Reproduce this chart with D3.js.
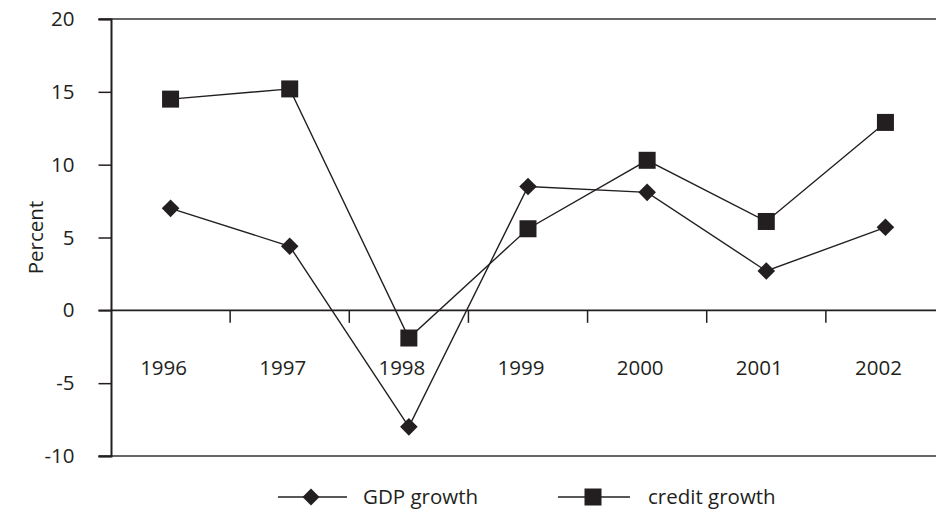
<!DOCTYPE html>
<html>
<head>
<meta charset="utf-8">
<script src="https://cdn.jsdelivr.net/npm/d3@7"></script>
<style>
  html, body { margin: 0; padding: 0; background: #fff; }
  svg { display: block; }
  text { font-family: "Open Sans", "Noto Sans", sans-serif; fill: #231f20; }
</style>
</head>
<body>
<svg id="chart" width="936" height="510"></svg>
<script>
// Annual growth rates, percent
const years = ["1996", "1997", "1998", "1999", "2000", "2001", "2002"];
const gdpGrowth = [7.0, 4.4, -8.0, 8.5, 8.1, 2.7, 5.7];
const creditGrowth = [14.5, 15.2, -1.9, 5.6, 10.3, 6.1, 12.9];
const yTicks = [-10, -5, 0, 5, 10, 15, 20];
const seriesNames = ["GDP growth", "credit growth"];

const ink = "#231f20";
const fontSize = 20.5;
const svg = d3.select("#chart");

const plotLeft = 111, plotRight = 945, plotTop = 19, plotBottom = 456;
const x = d3.scaleBand().domain(years).range([plotLeft, plotRight]).padding(0);
const y = d3.scaleLinear().domain([-10, 20]).range([plotBottom, plotTop]);
const cx = d => x(d) + x.bandwidth() / 2;

// Top and bottom frame lines at the axis extremes
[20, -10].forEach(v => {
  svg.append("line")
    .attr("x1", plotLeft - 12.5).attr("x2", 936)
    .attr("y1", y(v)).attr("y2", y(v))
    .attr("stroke", "#333").attr("stroke-width", 1.6);
});

// Y axis with outward ticks; plain hyphen for negatives
const yAxis = svg.append("g")
  .attr("transform", `translate(${plotLeft},0)`)
  .call(d3.axisLeft(y).tickValues(yTicks).tickSize(12.5).tickPadding(24).tickFormat(d => String(d)));
yAxis.select(".domain").attr("stroke", ink).attr("stroke-width", 2);
yAxis.selectAll(".tick line").attr("stroke", ink).attr("stroke-width", 1.5);
yAxis.selectAll(".tick text").attr("font-size", fontSize).attr("fill", ink)
  .style("font-family", '"Open Sans", sans-serif');

// Zero line with category separators hanging below
svg.append("line")
  .attr("x1", plotLeft - 12.5).attr("x2", 936)
  .attr("y1", y(0)).attr("y2", y(0))
  .attr("stroke", ink).attr("stroke-width", 1.6);

svg.append("g").selectAll("line")
  .data(years.slice(1))
  .join("line")
  .attr("x1", d => x(d)).attr("x2", d => x(d))
  .attr("y1", y(0)).attr("y2", y(0) + 12.5)
  .attr("stroke", ink).attr("stroke-width", 1.5);

// Category labels below the zero line
svg.append("g").selectAll("text")
  .data(years)
  .join("text")
  .attr("x", d => cx(d) - 7)
  .attr("y", y(0) + 65)
  .attr("text-anchor", "middle")
  .attr("font-size", fontSize)
  .text(d => d);

// Axis title
svg.append("text")
  .attr("transform", `translate(43,${(plotTop + plotBottom) / 2}) rotate(-90)`)
  .attr("text-anchor", "middle")
  .attr("font-size", fontSize)
  .text("Percent");

const line = d3.line().x(d => cx(d.year)).y(d => y(d.value));
const gdpPts = years.map((yr, i) => ({ year: yr, value: gdpGrowth[i] }));
const creditPts = years.map((yr, i) => ({ year: yr, value: creditGrowth[i] }));

const diamond = (px, py, r) => `M${px},${py - r}L${px + r},${py}L${px},${py + r}L${px - r},${py}Z`;
const sq = 17;

// Series lines
[gdpPts, creditPts].forEach(pts => {
  svg.append("path")
    .datum(pts)
    .attr("d", line)
    .attr("fill", "none")
    .attr("stroke", ink)
    .attr("stroke-width", 1.4);
});

// GDP markers: diamonds
svg.append("g").selectAll("path")
  .data(gdpPts)
  .join("path")
  .attr("d", d => diamond(cx(d.year), y(d.value), 8.8))
  .attr("fill", ink);

// Credit markers: squares
svg.append("g").selectAll("rect")
  .data(creditPts)
  .join("rect")
  .attr("x", d => cx(d.year) - sq / 2)
  .attr("y", d => y(d.value) - sq / 2)
  .attr("width", sq).attr("height", sq)
  .attr("fill", ink);

// Legend
const ly = 497;
const lg = svg.append("g");
lg.append("line").attr("x1", 278).attr("x2", 347).attr("y1", ly).attr("y2", ly)
  .attr("stroke", ink).attr("stroke-width", 1.4);
lg.append("path").attr("d", diamond(311, ly, 8.5)).attr("fill", ink);
lg.append("text").attr("x", 363).attr("y", ly + 7).attr("font-size", fontSize).text(seriesNames[0]);

lg.append("line").attr("x1", 558).attr("x2", 630).attr("y1", ly).attr("y2", ly)
  .attr("stroke", ink).attr("stroke-width", 1.4);
lg.append("rect").attr("x", 593 - sq / 2).attr("y", ly - sq / 2).attr("width", sq).attr("height", sq)
  .attr("fill", ink);
lg.append("text").attr("x", 648).attr("y", ly + 7).attr("font-size", fontSize).text(seriesNames[1]);
</script>
</body>
</html>
